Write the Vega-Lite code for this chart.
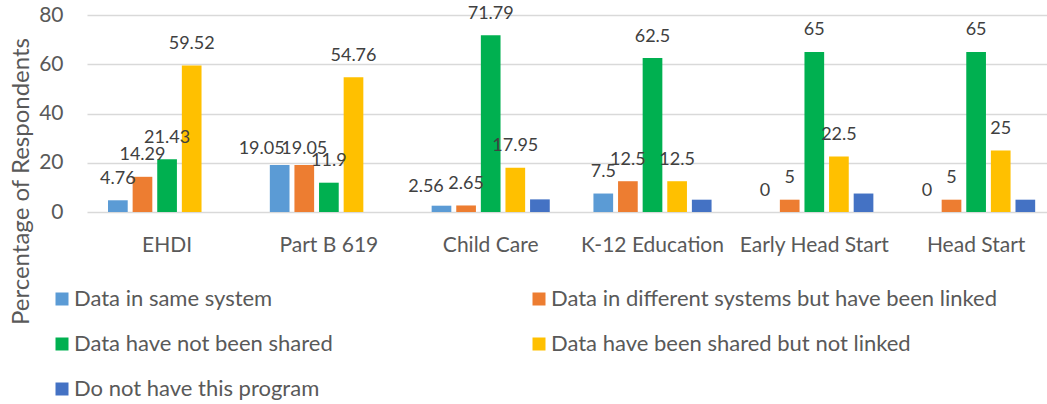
{
  "$schema": "https://vega.github.io/schema/vega-lite/v6.json",
  "width": 960,
  "height": 197,
  "autosize": "none",
  "padding": {"left": 87, "top": 15, "right": 0, "bottom": 192},
  "background": "white",
  "config": {
    "font": "Lato",
    "view": {"stroke": null},
    "legend": {
      "orient": "none",
      "direction": "horizontal",
      "legendX": -36,
      "legendY": 273,
      "columns": 2,
      "gridAlign": "all",
      "symbolType": "square",
      "symbolSize": 169,
      "symbolStrokeWidth": 0,
      "labelFontSize": 22,
      "labelColor": "#595959",
      "labelLimit": 700,
      "labelOffset": 1,
      "rowPadding": 23,
      "columnPadding": 8,
      "padding": 0,
      "title": null
    }
  },
  "data": {
    "values": [
      {"program": "EHDI", "series": "Data in same system", "value": 4.76},
      {"program": "EHDI", "series": "Data in different systems but have been linked", "value": 14.29},
      {"program": "EHDI", "series": "Data have not been shared", "value": 21.43},
      {"program": "EHDI", "series": "Data have been shared but not linked", "value": 59.52},
      {"program": "Part B 619", "series": "Data in same system", "value": 19.05},
      {"program": "Part B 619", "series": "Data in different systems but have been linked", "value": 19.05},
      {"program": "Part B 619", "series": "Data have not been shared", "value": 11.9},
      {"program": "Part B 619", "series": "Data have been shared but not linked", "value": 54.76},
      {"program": "Child Care", "series": "Data in same system", "value": 2.56},
      {"program": "Child Care", "series": "Data in different systems but have been linked", "value": 2.65},
      {"program": "Child Care", "series": "Data have not been shared", "value": 71.79},
      {"program": "Child Care", "series": "Data have been shared but not linked", "value": 17.95},
      {"program": "Child Care", "series": "Do not have this program", "value": 5.13},
      {"program": "K-12 Education", "series": "Data in same system", "value": 7.5},
      {"program": "K-12 Education", "series": "Data in different systems but have been linked", "value": 12.5},
      {"program": "K-12 Education", "series": "Data have not been shared", "value": 62.5},
      {"program": "K-12 Education", "series": "Data have been shared but not linked", "value": 12.5},
      {"program": "K-12 Education", "series": "Do not have this program", "value": 5},
      {"program": "Early Head Start", "series": "Data in same system", "value": 0},
      {"program": "Early Head Start", "series": "Data in different systems but have been linked", "value": 5},
      {"program": "Early Head Start", "series": "Data have not been shared", "value": 65},
      {"program": "Early Head Start", "series": "Data have been shared but not linked", "value": 22.5},
      {"program": "Early Head Start", "series": "Do not have this program", "value": 7.5},
      {"program": "Head Start", "series": "Data in same system", "value": 0},
      {"program": "Head Start", "series": "Data in different systems but have been linked", "value": 5},
      {"program": "Head Start", "series": "Data have not been shared", "value": 65},
      {"program": "Head Start", "series": "Data have been shared but not linked", "value": 25},
      {"program": "Head Start", "series": "Do not have this program", "value": 5}
    ]
  },
  "encoding": {
    "x": {
      "field": "program",
      "type": "nominal",
      "sort": ["EHDI", "Part B 619", "Child Care", "K-12 Education", "Early Head Start", "Head Start"],
      "scale": {"paddingInner": 0.27, "paddingOuter": 0.1015, "align": 0.64},
      "axis": {
        "title": null,
        "labelAngle": 0,
        "ticks": false,
        "domain": false,
        "labelFontSize": 21,
        "labelColor": "#595959",
        "labelPadding": 22,
        "labelBaseline": "top"
      }
    },
    "xOffset": {
      "field": "series",
      "type": "nominal",
      "scale": {
        "domain": ["Data in same system", "Data in different systems but have been linked", "Data have not been shared", "Data have been shared but not linked", "Do not have this program"],
        "paddingInner": 0.2,
        "paddingOuter": 0
      }
    },
    "y": {
      "field": "value",
      "type": "quantitative",
      "scale": {"domain": [0, 80], "nice": false},
      "axis": {
        "values": [0, 20, 40, 60, 80],
        "title": "Percentage of Respondents",
        "titleFontSize": 24,
        "titleFontWeight": "normal",
        "titleColor": "#595959",
        "titleX": -66,
        "titleY": 166,
        "titleAngle": -90,
        "titleAlign": "center",
        "titleBaseline": "middle",
        "labelFontSize": 21,
        "labelColor": "#595959",
        "labelPadding": 24,
        "ticks": false,
        "domain": false,
        "gridColor": "#d9d9d9",
        "gridWidth": 1.3
      }
    }
  },
  "layer": [
    {
      "mark": {"type": "bar"},
      "encoding": {
        "color": {
          "field": "series",
          "type": "nominal",
          "scale": {
            "domain": ["Data in same system", "Data in different systems but have been linked", "Data have not been shared", "Data have been shared but not linked", "Do not have this program"],
            "range": ["#5B9BD5", "#ED7D31", "#00B050", "#FFC000", "#4472C4"]
          }
        }
      }
    },
    {
      "transform": [{"filter": "datum.series !== 'Do not have this program' && !(datum.program === 'Part B 619' && (datum.series === 'Data in same system' || datum.series === 'Data in different systems but have been linked')) && !(datum.program === 'Child Care' && datum.series === 'Data in same system')"}],
      "mark": {"type": "text", "fontSize": 18, "color": "#404040", "baseline": "middle", "dy": -21.5},
      "encoding": {
        "text": {"field": "value", "type": "quantitative"}
      }
    },
    {
      "transform": [{"filter": "datum.program === 'Part B 619' && datum.series === 'Data in same system'"}],
      "mark": {"type": "text", "fontSize": 18, "color": "#404040", "baseline": "middle", "dy": -16.5, "dx": -18},
      "encoding": {
        "text": {"field": "value", "type": "quantitative"}
      }
    },
    {
      "transform": [{"filter": "datum.program === 'Part B 619' && datum.series === 'Data in different systems but have been linked'"}],
      "mark": {"type": "text", "fontSize": 18, "color": "#404040", "baseline": "middle", "dy": -16.5},
      "encoding": {
        "text": {"field": "value", "type": "quantitative"}
      }
    },
    {
      "transform": [{"filter": "datum.program === 'Child Care' && datum.series === 'Data in same system'"}],
      "mark": {"type": "text", "fontSize": 18, "color": "#404040", "baseline": "middle", "dy": -19, "dx": -15.5},
      "encoding": {
        "text": {"field": "value", "type": "quantitative"}
      }
    }
  ]
}
